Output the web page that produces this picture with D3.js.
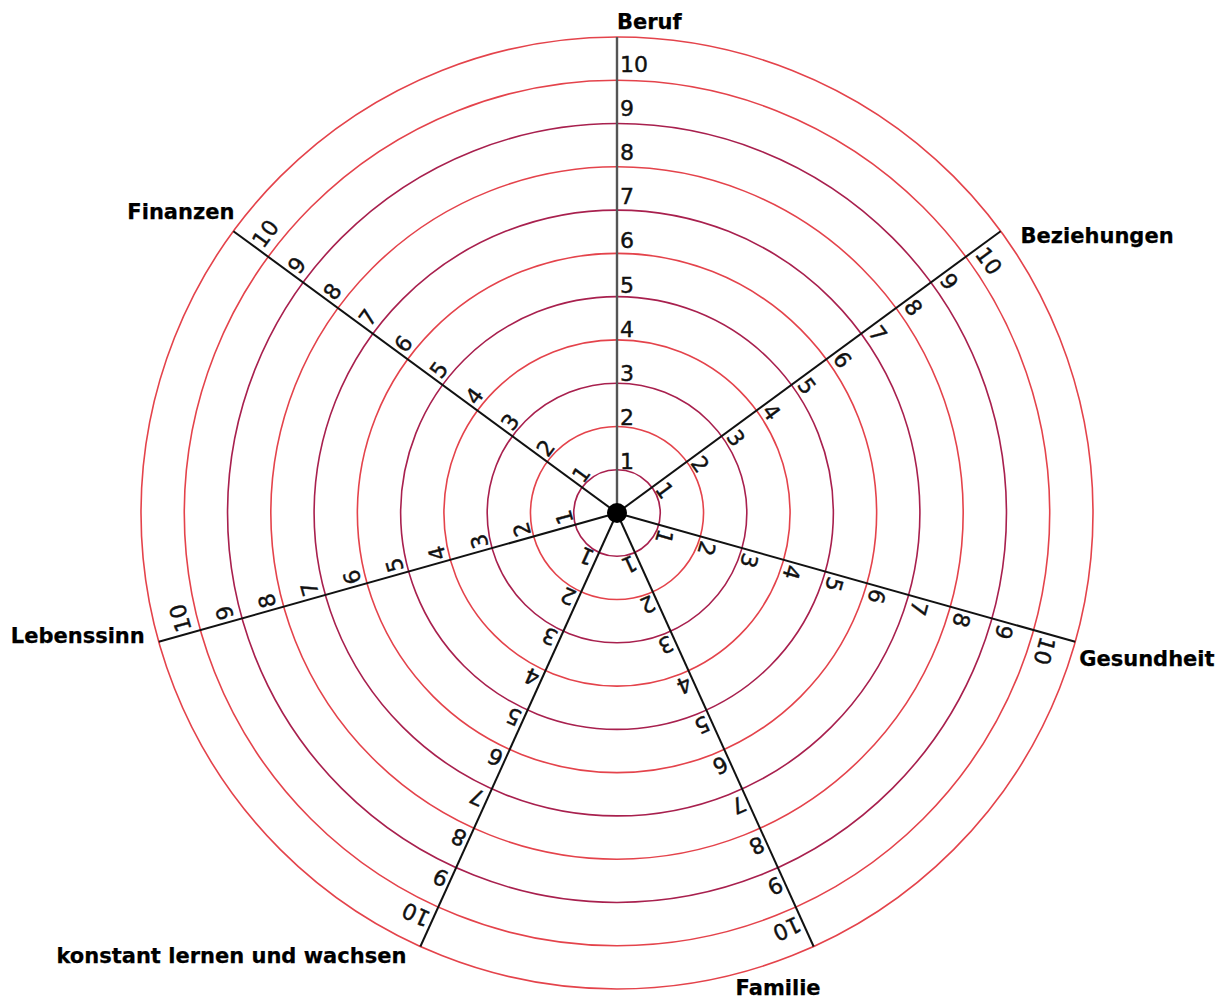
<!DOCTYPE html>
<html>
<head>
<meta charset="utf-8">
<script src="https://cdn.jsdelivr.net/npm/d3@7"></script>
<style>
  body { margin: 0; background: #fff; }
  svg { display: block; }
</style>
</head>
<body>
<svg id="wheel"></svg>
<script>
// life wheel data
const categories = ['Beruf', 'Beziehungen', 'Gesundheit', 'Familie', 'konstant lernen und wachsen', 'Lebenssinn', 'Finanzen'];
const tickLabels = ['1', '2', '3', '4', '5', '6', '7', '8', '9', '10'];
const ringLevels = [1, 2, 3, 4, 5, 6, 7, 8, 9, 10, 11];
// axes are not evenly spaced in the original (degrees, clockwise from top)
const axisAngles = [0, 53.7, 105.7, 155.6, 204.4, 254.3, 306.3];

const config = {
  width: 1231,
  height: 1003,
  cx: 617,
  cy: 513,
  radius: 476,
  red: '#e4434b',
  crimson: '#a8204e',
  // label placement relative to the end of each axis: [dx, dy, anchor]
  labelOffsets: [
    [0, -8, 'start'],
    [20, 12, 'start'],
    [4, 24, 'start'],
    [7, 49, 'end'],
    [-14, 17, 'end'],
    [-14, 1, 'end'],
    [1, -12, 'end']
  ]
};

createWheel('wheel', config);

function createWheel(id, config) {
  config.svg = d3.select(`#${id}`)
    .attr('width', config.width)
    .attr('height', config.height);
  config.main = config.svg.append('g')
    .attr('transform', `translate(${config.cx}, ${config.cy})`);
  config.ringScale = d3.scaleLinear().domain([0, 11]).range([0, config.radius]);
  config.tickScale = d3.scaleLinear().domain([0, 10]).range([0, 441]);
  drawRings(config);
  drawAxes(config);
  drawTicks(config);
  drawCenter(config);
  drawAxisLabels(config);
}

function drawRings(config) {
  config.main.selectAll('.ring')
    .data(ringLevels)
    .enter()
    .append('circle')
    .attr('class', 'ring')
    .attr('r', d => config.ringScale(d))
    .style('fill', 'none')
    .style('stroke', d => (d >= 10 || d % 2 === 0) ? config.red : config.crimson)
    .style('stroke-width', '1.6px');
}

function drawAxes(config) {
  config.axis = config.main.selectAll('.axis')
    .data(categories)
    .enter()
    .append('g')
    .attr('class', 'axis')
    .attr('transform', (d, i) => `rotate(${axisAngles[i]})`);

  config.axis.append('line')
    .attr('x1', 0)
    .attr('y1', 0)
    .attr('x2', 0)
    .attr('y2', -config.ringScale(11))
    .style('stroke', (d, i) => i === 0 ? '#555' : '#111')
    .style('stroke-width', (d, i) => i === 0 ? '2.4px' : '2px');
}

function drawTicks(config) {
  config.axis.selectAll('.tick')
    .data(tickLabels)
    .enter()
    .append('text')
    .attr('class', 'tick')
    .attr('x', 3)
    .attr('y', (d, i) => -config.tickScale(i + 1))
    .style('font-family', 'DejaVu Sans, sans-serif')
    .style('font-size', '22px')
    .style('fill', '#111')
    .style('stroke', '#111')
    .style('stroke-width', '0.4px')
    .text(d => d);
}

function drawCenter(config) {
  config.main.append('circle')
    .attr('r', 10)
    .style('fill', '#000');
}

function drawAxisLabels(config) {
  const end = config.ringScale(11);
  config.main.selectAll('.axisLabel')
    .data(categories)
    .enter()
    .append('text')
    .attr('class', 'axisLabel')
    .attr('x', (d, i) => end * Math.sin(axisAngles[i] * Math.PI / 180) + config.labelOffsets[i][0])
    .attr('y', (d, i) => -end * Math.cos(axisAngles[i] * Math.PI / 180) + config.labelOffsets[i][1])
    .attr('text-anchor', (d, i) => config.labelOffsets[i][2])
    .style('font-family', 'DejaVu Sans, sans-serif')
    .style('font-weight', 'bold')
    .style('font-size', '21px')
    .style('fill', '#000')
    .style('stroke', '#000')
    .style('stroke-width', '0.25px')
    .text(d => d);
}
</script>
</body>
</html>
